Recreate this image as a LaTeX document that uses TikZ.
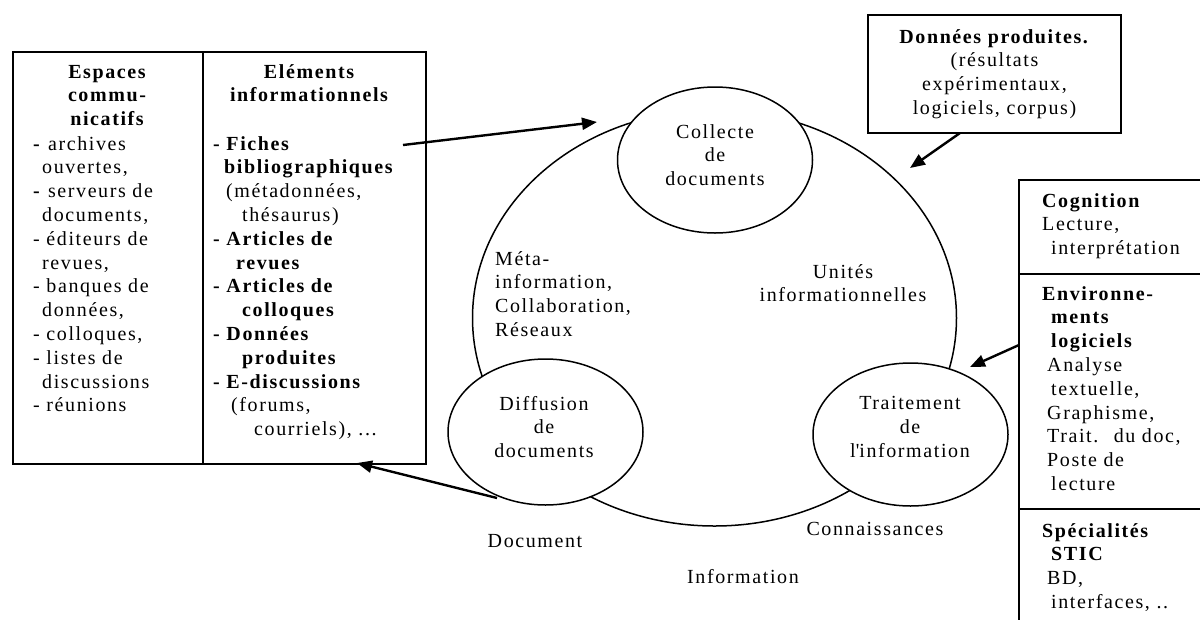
\documentclass[tikz,border=0pt]{standalone}
\usepackage{fontspec}
\setmainfont[LetterSpace=8]{Liberation Serif}
\usetikzlibrary{shapes.geometric,arrows.meta}

\begin{document}
\begin{tikzpicture}[x=1pt,y=-1pt,
		every node/.style={font=\fontsize{20}{23.8}\selectfont, inner sep=0pt},
		texte/.style={align=left, anchor=base west},
		titre/.style={align=center, anchor=base, font=\fontsize{20}{23.8}\selectfont\bfseries},
		cadre/.style={draw, line width=1.6pt},
		bulle/.style={draw, ellipse, fill=white, line width=1.5pt, minimum width=195, minimum height=146},
		fleche/.style={line width=2.4pt, -{Triangle[length=15pt,width=12pt]}}]
			%%%%% START %%%%%
			\clip (0,0) rectangle (1200,619);
			
			% cycle central
			\node (cycle) [draw, ellipse, line width=1.5pt, minimum width=484, minimum height=416] at (714.5,318) {};
			\node (collecte) [bulle] at (715,160) {};
			\node (diffusion) [bulle] at (545.5,432) {};
			\node (traitement) [bulle, minimum height=143] at (910.5,434.5) {};
			\node (collectetxt) [align=center] at (715,155) {Collecte\\de\\documents};
			\node (diffusiontxt) [align=center] at (544,427) {Diffusion\\de\\documents};
			\node (traitementtxt) [align=center] at (910,427) {Traitement\\de\\l\textquotesingle information};
			
			% (les noeuds a plusieurs lignes sont places par la ligne du bas)
			\node (meta) [texte] at (495,336.4) {Méta-\\information,\\Collaboration,\\Réseaux};
			\node (unites) [align=center, anchor=base] at (843,301.8) {Unités\\informationnelles};
			\node (document) [anchor=base] at (535,547) {Document};
			\node (information) [anchor=base] at (743,583) {Information};
			\node (connaissances) [anchor=base] at (875,535) {Connaissances};
			
			% tableau de gauche
			\node (espaces) [cadre, minimum width=190, minimum height=412, anchor=north west] at (12,51) {};
			\node (elements) [cadre, minimum width=223, minimum height=412, anchor=north west] at (202,51) {};
			\node (espacestitre) [titre] at (107,125.6) {Espaces\\commu-\\nicatifs};
			\node (espacesliste) [texte] at (33,411.8) {\textbf{-} archives\\
				\hspace*{9pt}ouvertes,\\
				\textbf{-} serveurs de\\
				\hspace*{9pt}documents,\\
				- éditeurs de\\
				\hspace*{9pt}revues,\\
				- banques de\\
				\hspace*{9pt}données,\\
				- colloques,\\
				- listes de\\
				\hspace*{9pt}discussions\\
				- réunions};
			\node (elementstitre) [titre] at (309,101.8) {Eléments\\informationnels};
			\node (elementsliste) [texte] at (213,435.6) {\textbf{- Fiches}\\
				\hspace*{11pt}\textbf{bibliographiques}\\
				\hspace*{13pt}(métadonnées,\\
				\hspace*{29pt}thésaurus)\\
				\textbf{- Articles de}\\
				\hspace*{23pt}\textbf{revues}\\
				\textbf{- Articles de}\\
				\hspace*{29pt}\textbf{colloques}\\
				\textbf{- Données}\\
				\hspace*{29pt}\textbf{produites}\\
				\textbf{- E-discussions}\\
				\hspace*{18pt}(forums,\\
				\hspace*{41pt}courriels), ...};
			
			% donnees produites
			\node (donnees) [cadre, minimum width=253, minimum height=118, align=center] at (994.5,74)
				{\textbf{Données produites.}\\(résultats\\expérimentaux,\\logiciels, corpus)};
			
			% tableau de droite
			\draw[line width=1.6pt] (1210,180) -- (1019,180) -- (1019,630);
			\draw[line width=1.6pt] (1019,274) -- (1210,274);
			\draw[line width=1.6pt] (1019,509) -- (1210,509);
			\node (cognition) [texte] at (1042,254.6) {\textbf{Cognition}\\Lecture,\\\hspace*{9pt}interprétation};
			\node (environ) [texte] at (1042,490.4) {\textbf{Environne-}\\
				\hspace*{9pt}\textbf{ments}\\
				\hspace*{9pt}\textbf{logiciels}\\
				\hspace*{5pt}Analyse\\
				\hspace*{9pt}textuelle,\\
				\hspace*{5pt}Graphisme,\\
				\hspace*{5pt}Trait.~ du doc,\\
				\hspace*{5pt}Poste de\\
				\hspace*{9pt}lecture};
			\node (specialites) [texte] at (1042,608.4) {\textbf{Spécialités}\\
				\hspace*{9pt}\textbf{STIC}\\
				\hspace*{5pt}BD,\\
				\hspace*{9pt}interfaces, ..};
			
			% fleches
			\coordinate (fiches) at (403,145);
			\coordinate (entree) at (597,122);
			\coordinate (donneesbas) at (960,133);
			\coordinate (versunites) at (910,168);
			\coordinate (logiciels) at (1019,345);
			\coordinate (verstraitement) at (970,367);
			\coordinate (diffusionbas) at (497,498);
			\coordinate (verselements) at (357,463);
			\draw[fleche] (fiches) -- (entree);
			\draw[fleche] (donneesbas) -- (versunites);
			\draw[fleche] (logiciels) -- (verstraitement);
			\draw[fleche] (diffusionbas) -- (verselements);
			%%%%% END %%%%%
		\end{tikzpicture}
\end{document}
